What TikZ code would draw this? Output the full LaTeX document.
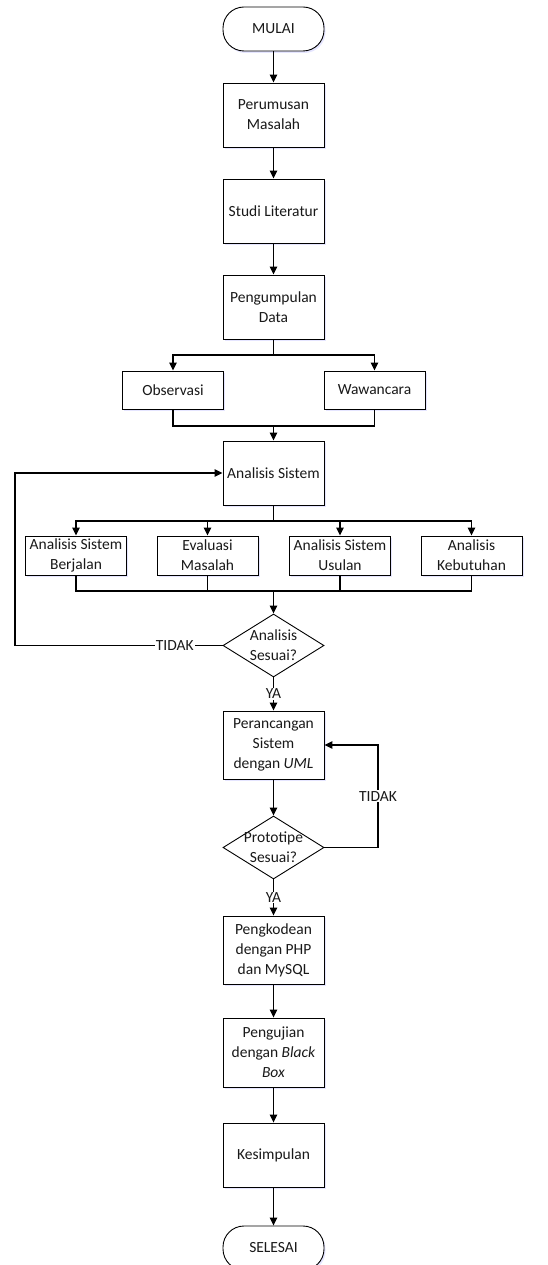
\documentclass[tikz,border=0pt]{standalone}
\usepackage{fontspec}
\setmainfont{Carlito}
\usetikzlibrary{shapes.geometric,arrows.meta,shadows}
\begin{document}
\begin{tikzpicture}[x=1pt,y=-1pt,
  every node/.style={font=\fontsize{15.5}{20}\selectfont, text=black!90},
  shd/.style={drop shadow={shadow xshift=1.5pt, shadow yshift=-2pt, fill=blue!20!white, opacity=0.5}},
  box/.style={draw, line width=0.9pt, fill=white, shd, minimum width=101pt, align=center, inner sep=0pt},
  term/.style={box, rounded corners=21pt, minimum height=44pt},
  diam/.style={draw, line width=0.9pt, fill=white, diamond, minimum width=101pt, minimum height=63pt, inner sep=0pt, aspect=1.6},
  dtext/.style={align=center, inner sep=0pt},
  lbl/.style={fill=white, inner sep=1pt},
  arr/.style={line width=1.2pt, -{Triangle[length=8pt,width=7.5pt]}},
  ln/.style={line width=1.2pt}
]
\path[use as bounding box] (0,0) rectangle (548,1265);

\node[term] (mulai) at (273.5,29) {MULAI};
\node[box, minimum height=64pt] (p1) at (273.5,115) {Perumusan\\Masalah};
\node[box, minimum height=64pt] (p2) at (273.5,211) {Studi Literatur};
\node[box, minimum height=64pt] (p3) at (273.5,307) {Pengumpulan\\Data};
\node[box, minimum height=38pt] (obs) at (173,390) {Observasi};
\node[box, minimum height=38pt] (waw) at (374.5,390) {Wawancara};
\node[box, minimum height=64pt] (as) at (273.5,473) {Analisis Sistem};
\node[box, minimum height=39pt] (b1) at (76,555.5) {Analisis Sistem\\Berjalan};
\node[box, minimum height=39pt] (b2) at (207.5,555.5) {Evaluasi\\Masalah};
\node[box, minimum height=39pt] (b3) at (340,555.5) {Analisis Sistem\\Usulan};
\node[box, minimum height=39pt] (b4) at (471.5,555.5) {Analisis\\Kebutuhan};
\node[diam] (d1) at (273.5,645.5) {};
\node[dtext] (d1t) at (273.5,645.5) {Analisis\\Sesuai?};
\node[box, minimum height=68pt] (p5) at (273.5,745) {Perancangan\\Sistem\\dengan \textit{UML}};
\node[diam] (d2) at (273.5,847.5) {};
\node[dtext] (d2t) at (273.5,847.5) {Prototipe\\Sesuai?};
\node[box, minimum height=68pt] (p6) at (273.5,950) {Pengkodean\\dengan PHP\\dan MySQL};
\node[box, minimum height=69pt] (p7) at (273.5,1052.5) {Pengujian\\dengan \textit{Black}\\\textit{Box}};
\node[box, minimum height=64pt] (p8) at (273.5,1155) {Kesimpulan};
\node[term] (sel) at (273.5,1248) {SELESAI};

\coordinate (j1) at (273.5,355);
\coordinate (j2) at (273.5,426);
\coordinate (j3) at (273.5,521);
\coordinate (j4) at (273.5,591);
\coordinate (c1) at (15,645.5);
\coordinate (c2) at (378,847.5);
\coordinate (c3) at (378,745);

\draw[arr] (mulai) -- (p1);
\draw[arr] (p1) -- (p2);
\draw[arr] (p2) -- (p3);
\draw[ln] (p3.south) -- (j1);
\draw[arr] (j1) -| (obs.north);
\draw[arr] (j1) -| (waw.north);
\draw[ln] (obs.south) |- (j2) -| (waw.south);
\draw[arr] (j2) -- (as.north);
\draw[ln] (as.south) -- (j3);
\draw[arr] (j3) -| (b1.north);
\draw[arr] (j3) -| (b2.north);
\draw[arr] (j3) -| (b3.north);
\draw[arr] (j3) -| (b4.north);
\draw[ln] (b1.south) |- (j4) -| (b4.south);
\draw[ln] (b2.south) |- (j4);
\draw[ln] (b3.south) |- (j4);
\draw[arr] (j4) -- (d1.north);
\draw[arr] (d1.west) -- node[lbl, pos=0.23] {TIDAK} (c1) |- (as.west);
\draw[arr] (d1.south) -- node[lbl] {YA} (p5.north);
\draw[arr] (p5) -- (d2.north);
\draw[arr] (d2.east) -- (c2) -- node[lbl] {TIDAK} (c3) -- (p5.east);
\draw[arr] (d2.south) -- node[lbl] {YA} (p6.north);
\draw[arr] (p6) -- (p7);
\draw[arr] (p7) -- (p8);
\draw[arr] (p8) -- (sel);
\end{tikzpicture}
\end{document}
